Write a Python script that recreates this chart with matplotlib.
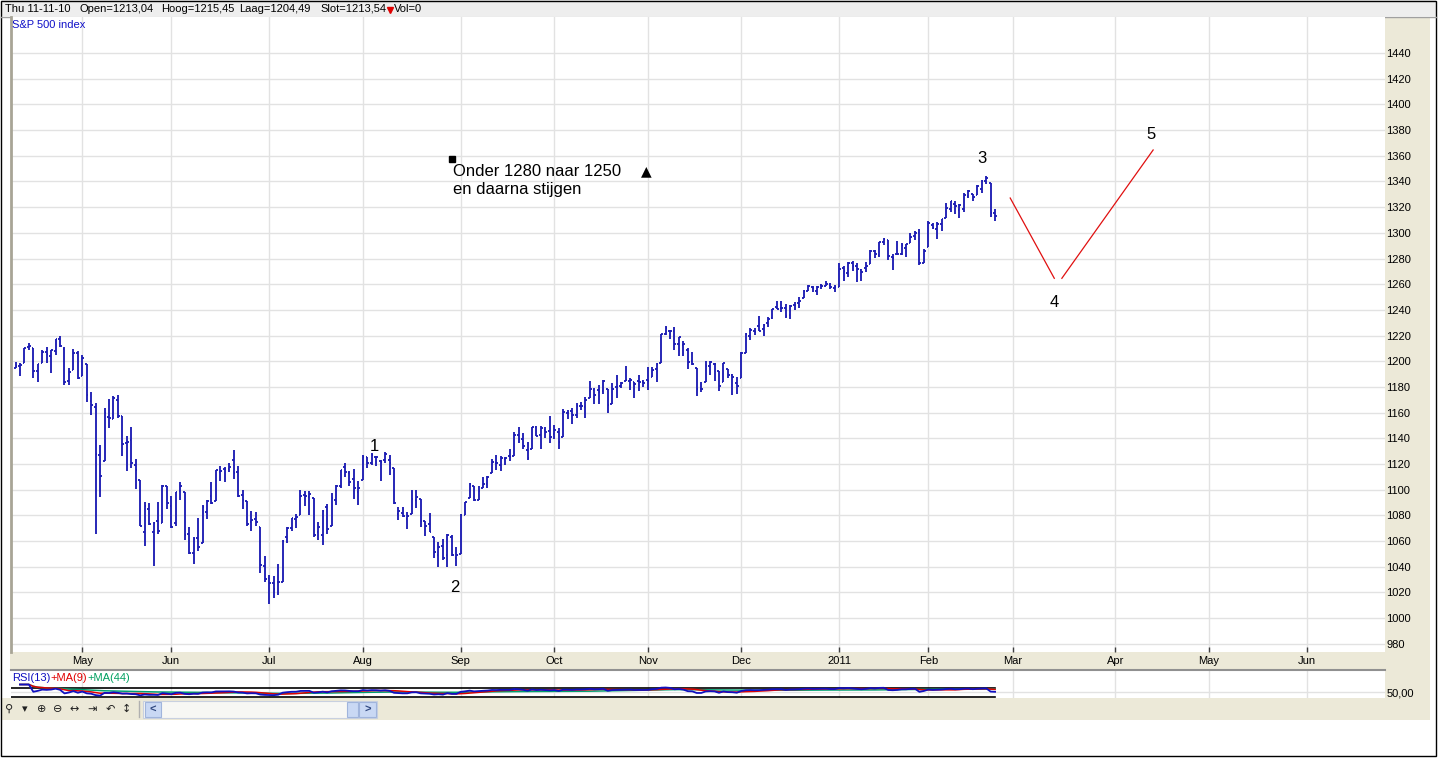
import numpy as np
import pandas as pd
import matplotlib
matplotlib.use('Agg')
import matplotlib.pyplot as plt
from matplotlib.collections import LineCollection
from matplotlib.patches import Rectangle

W, H, DPI = 1438, 758, 100

# ---------------- data ----------------
start_date = '2010-04-12'
end_date = '2011-02-23'
future_end = '2011-06-30'
holidays = ['2010-05-31', '2010-07-05', '2010-09-06', '2010-11-25',
            '2010-12-24', '2011-01-17', '2011-02-21']

open_ = [
    # Apr 2010
    1194.94, 1195.94, 1198.69, 1210.77, 1210.17, 1192.06, 1199.04, 1207.16, 1203.79, 1207.87,
    1217.07, 1209.92, 1184.59, 1193.30, 1206.77,
    # May
    1188.58, 1197.50, 1169.24, 1164.38, 1127.04, 1122.27, 1156.39, 1155.43, 1170.04, 1157.19,
    1136.52, 1138.78, 1119.57, 1107.34, 1067.26, 1084.78, 1067.42, 1075.51, 1074.27, 1102.59,
    # Jun
    1087.30, 1073.89, 1098.82, 1098.43, 1065.84, 1050.81, 1062.75, 1058.77, 1082.65, 1095.00,
    1091.21, 1114.02, 1115.98, 1116.16, 1122.79, 1113.90, 1095.57, 1090.93, 1075.10, 1077.50,
    1071.10, 1040.56,
    # Jul
    1031.10, 1027.65, 1028.09, 1028.54, 1062.92, 1070.50, 1077.23, 1080.65, 1095.61, 1094.46,
    1093.85, 1066.85, 1064.53, 1086.67, 1072.14, 1092.17, 1102.89, 1117.36, 1112.84, 1108.07,
    1098.44,
    # Aug
    1107.53, 1125.34, 1121.06, 1125.78, 1122.07, 1122.80, 1122.92, 1116.89, 1081.48, 1082.22,
    1077.49, 1081.16, 1092.08, 1092.44, 1075.63, 1073.36, 1063.20, 1048.98, 1056.28, 1049.27,
    1062.90, 1046.88,
    # Sep
    1049.72, 1080.66, 1093.61, 1102.60, 1092.36, 1101.15, 1104.57, 1113.38, 1121.16, 1119.43,
    1123.89, 1126.39, 1126.57, 1142.82, 1139.49, 1131.10, 1131.69, 1148.64, 1142.31, 1146.75,
    1145.97,
    # Oct
    1143.49, 1144.96, 1140.68, 1159.81, 1161.57, 1158.36, 1165.32, 1164.28, 1171.32, 1177.82,
    1177.47, 1176.83, 1178.64, 1166.74, 1179.82, 1180.52, 1184.74, 1184.88, 1183.84, 1184.47,
    1183.87,
    # Nov
    1185.71, 1187.86, 1193.79, 1198.34, 1221.20, 1223.24, 1223.59, 1213.14, 1213.04, 1209.07,
    1200.44, 1194.79, 1178.33, 1183.75, 1196.12, 1198.07, 1192.51, 1183.70, 1194.16, 1189.08,
    1182.96,
    # Dec
    1186.60, 1206.81, 1219.93, 1223.87, 1227.25, 1225.02, 1230.14, 1233.85, 1242.52, 1241.84,
    1241.58, 1236.34, 1243.63, 1245.76, 1249.43, 1254.94, 1257.53, 1254.66, 1259.10, 1258.78,
    1259.44, 1256.76,
    # Jan 2011
    1257.62, 1272.95, 1268.78, 1276.29, 1274.41, 1270.84, 1272.58, 1275.65, 1285.78, 1282.90,
    1293.22, 1294.52, 1280.85, 1283.63, 1283.29, 1288.17, 1291.97, 1297.51, 1299.63, 1276.50,
    # Feb
    1289.14, 1305.91, 1302.77, 1307.01, 1311.85, 1318.76, 1322.48, 1318.13, 1318.66, 1328.73,
    1330.43, 1329.51, 1334.37, 1340.38, 1338.91, 1315.44,
]

high = [
    1199.20, 1199.04, 1210.65, 1213.92, 1210.17, 1197.87, 1208.58, 1210.99, 1208.67, 1217.28,
    1219.80, 1211.38, 1195.05, 1209.36, 1207.99,
    1205.13, 1197.50, 1175.95, 1167.58, 1135.13, 1163.85, 1170.48, 1172.87, 1173.57, 1157.19,
    1141.88, 1148.66, 1124.27, 1107.34, 1090.16, 1089.95, 1074.75, 1090.75, 1103.52, 1102.59,
    1094.77, 1098.56, 1105.67, 1098.43, 1071.36, 1063.15, 1077.74, 1087.85, 1092.25, 1105.91,
    1115.59, 1118.74, 1117.72, 1121.01, 1131.23, 1118.50, 1099.64, 1090.93, 1083.56, 1082.60,
    1071.10, 1048.08,
    1033.58, 1032.95, 1042.50, 1060.89, 1071.25, 1078.16, 1080.78, 1099.46, 1099.08, 1098.66,
    1093.85, 1074.70, 1083.94, 1088.96, 1097.50, 1103.73, 1115.01, 1120.95, 1114.66, 1115.90,
    1106.44,
    1127.30, 1125.44, 1128.75, 1126.56, 1123.06, 1129.24, 1127.16, 1116.89, 1086.72, 1086.25,
    1082.62, 1100.14, 1099.77, 1092.44, 1075.63, 1081.58, 1063.20, 1059.38, 1061.45, 1065.21,
    1064.40, 1055.14,
    1081.30, 1090.10, 1105.10, 1102.60, 1103.26, 1110.27, 1110.88, 1123.87, 1127.36, 1126.46,
    1125.44, 1131.47, 1144.86, 1148.59, 1144.38, 1136.77, 1148.90, 1149.92, 1150.00, 1148.63,
    1157.16,
    1150.30, 1148.16, 1162.76, 1162.33, 1163.87, 1167.73, 1168.68, 1172.58, 1184.38, 1178.89,
    1181.20, 1185.53, 1178.64, 1182.94, 1189.43, 1183.93, 1196.14, 1187.11, 1183.84, 1189.53,
    1185.46,
    1195.81, 1195.88, 1198.30, 1221.25, 1227.08, 1224.57, 1226.84, 1218.75, 1215.45, 1210.50,
    1207.43, 1194.79, 1183.56, 1200.29, 1199.97, 1198.94, 1192.51, 1198.62, 1194.16, 1190.34,
    1187.40,
    1207.61, 1221.89, 1225.57, 1225.80, 1235.05, 1228.93, 1234.71, 1240.40, 1246.73, 1246.59,
    1244.25, 1243.75, 1245.81, 1250.20, 1255.82, 1259.39, 1258.59, 1258.43, 1259.90, 1262.60,
    1261.09, 1259.34,
    1276.17, 1274.12, 1277.63, 1278.17, 1276.83, 1271.52, 1277.25, 1286.87, 1286.70, 1293.24,
    1296.06, 1294.60, 1283.35, 1293.26, 1291.93, 1291.26, 1299.74, 1301.29, 1302.67, 1287.17,
    1308.86, 1307.61, 1308.60, 1311.00, 1322.85, 1324.87, 1324.54, 1322.76, 1330.79, 1332.96,
    1330.43, 1337.61, 1341.50, 1344.07, 1338.91, 1318.30,
]

low = [
    1194.70, 1188.82, 1198.69, 1208.50, 1186.77, 1183.68, 1199.04, 1198.85, 1190.60, 1205.10,
    1211.07, 1181.62, 1181.81, 1193.30, 1186.32,
    1188.58, 1168.12, 1158.15, 1065.79, 1094.15, 1122.27, 1147.71, 1155.43, 1156.14, 1126.14,
    1114.96, 1117.20, 1100.66, 1071.58, 1055.90, 1072.70, 1040.78, 1065.59, 1074.27, 1084.78,
    1069.89, 1072.03, 1091.81, 1060.50, 1049.86, 1042.17, 1052.25, 1058.77, 1077.12, 1089.03,
    1091.21, 1107.13, 1105.87, 1113.93, 1108.24, 1094.18, 1085.31, 1071.60, 1067.89, 1071.45,
    1035.18, 1028.33,
    1010.91, 1015.93, 1018.35, 1028.54, 1058.24, 1068.10, 1069.99, 1080.65, 1087.68, 1080.53,
    1063.32, 1061.11, 1056.88, 1065.25, 1072.14, 1087.88, 1101.30, 1109.78, 1103.11, 1092.82,
    1088.01,
    1107.53, 1116.76, 1119.46, 1118.81, 1107.17, 1120.91, 1111.58, 1088.55, 1076.69, 1079.00,
    1069.49, 1081.16, 1085.76, 1070.66, 1063.91, 1067.08, 1046.68, 1039.83, 1045.40, 1039.70,
    1048.79, 1040.88,
    1049.72, 1080.39, 1093.61, 1091.15, 1092.36, 1101.15, 1101.15, 1113.38, 1115.58, 1114.63,
    1118.88, 1122.43, 1126.57, 1136.22, 1131.58, 1122.79, 1131.69, 1142.00, 1132.09, 1140.26,
    1136.08,
    1139.42, 1131.87, 1140.68, 1154.85, 1151.41, 1155.58, 1162.02, 1155.71, 1171.32, 1166.71,
    1167.12, 1174.55, 1159.71, 1166.74, 1171.17, 1178.99, 1184.74, 1177.72, 1171.70, 1177.10,
    1179.70,
    1177.65, 1187.86, 1183.56, 1198.34, 1220.29, 1217.55, 1208.94, 1204.33, 1204.49, 1194.08,
    1197.15, 1173.00, 1175.82, 1183.75, 1189.44, 1184.58, 1176.91, 1183.70, 1186.93, 1173.64,
    1174.14,
    1186.60, 1206.81, 1216.82, 1220.67, 1223.25, 1219.50, 1226.85, 1232.58, 1240.34, 1238.17,
    1234.01, 1232.85, 1239.87, 1241.51, 1249.43, 1254.94, 1254.05, 1251.48, 1256.22, 1258.78,
    1256.32, 1254.19,
    1257.62, 1262.66, 1265.36, 1270.43, 1261.70, 1262.18, 1269.62, 1275.65, 1280.47, 1281.24,
    1290.16, 1278.92, 1271.26, 1283.07, 1282.47, 1281.07, 1291.97, 1294.41, 1275.10, 1276.50,
    1289.14, 1302.62, 1294.83, 1301.67, 1311.85, 1316.03, 1314.89, 1311.74, 1316.08, 1326.90,
    1324.61, 1329.51, 1331.00, 1338.12, 1312.33, 1309.20,
]

close = [
    1196.48, 1197.30, 1210.65, 1211.67, 1192.13, 1197.52, 1207.17, 1205.94, 1208.67, 1217.28,
    1212.05, 1183.71, 1191.36, 1206.78, 1186.69,
    1202.26, 1173.60, 1165.87, 1128.15, 1110.88, 1159.73, 1155.79, 1171.67, 1157.44, 1135.68,
    1136.94, 1120.80, 1115.05, 1071.59, 1087.69, 1073.65, 1074.03, 1067.95, 1103.06, 1089.41,
    1070.71, 1098.38, 1102.83, 1064.88, 1050.47, 1062.00, 1055.69, 1086.84, 1091.60, 1089.63,
    1115.23, 1114.61, 1116.04, 1117.51, 1113.20, 1095.31, 1092.04, 1073.69, 1076.76, 1074.57,
    1041.24, 1030.71,
    1027.37, 1022.58, 1028.06, 1060.27, 1070.25, 1077.96, 1078.75, 1095.34, 1095.17, 1096.48,
    1064.88, 1071.25, 1083.48, 1069.59, 1093.67, 1102.66, 1115.01, 1113.84, 1106.13, 1101.53,
    1101.60,
    1125.86, 1120.46, 1127.24, 1125.81, 1121.64, 1127.79, 1121.06, 1089.47, 1083.61, 1079.25,
    1079.38, 1092.54, 1094.16, 1075.63, 1071.69, 1067.36, 1051.87, 1055.33, 1047.22, 1064.59,
    1048.92, 1049.33,
    1080.29, 1090.10, 1104.51, 1091.84, 1098.87, 1104.18, 1109.55, 1121.90, 1121.10, 1125.07,
    1124.66, 1125.59, 1142.71, 1139.78, 1134.28, 1124.83, 1148.67, 1142.16, 1147.70, 1144.73,
    1141.20,
    1146.24, 1137.03, 1160.75, 1159.97, 1158.06, 1165.15, 1165.32, 1169.77, 1178.10, 1173.81,
    1176.19, 1184.71, 1165.90, 1178.17, 1180.26, 1183.08, 1185.62, 1185.64, 1182.45, 1183.78,
    1183.26,
    1184.38, 1193.57, 1197.96, 1221.06, 1225.85, 1223.25, 1213.40, 1218.71, 1213.54, 1199.21,
    1197.75, 1178.34, 1178.59, 1196.69, 1199.73, 1197.84, 1180.73, 1198.35, 1189.40, 1187.76,
    1180.55,
    1206.07, 1221.53, 1224.71, 1223.12, 1223.75, 1228.28, 1233.00, 1240.40, 1240.46, 1241.59,
    1235.23, 1242.87, 1243.91, 1247.08, 1254.60, 1258.84, 1256.77, 1257.54, 1258.51, 1259.78,
    1257.88, 1257.64,
    1271.87, 1270.20, 1276.56, 1273.85, 1271.50, 1269.75, 1274.48, 1285.96, 1283.76, 1293.24,
    1295.02, 1281.92, 1280.26, 1283.35, 1290.84, 1291.18, 1296.63, 1299.54, 1276.34, 1286.12,
    1307.59, 1304.03, 1307.10, 1310.87, 1319.05, 1324.57, 1320.88, 1321.87, 1329.15, 1332.32,
    1328.01, 1336.32, 1340.43, 1343.01, 1315.44, 1313.00,
]

month_labels = ['May', 'Jun', 'Jul', 'Aug', 'Sep', 'Oct', 'Nov', 'Dec', '2011',
                'Feb', 'Mar', 'Apr', 'May', 'Jun']
price_ticks = list(range(980, 1441, 20))

# wave-count annotations (labels and projected path, in index/price units)
wave_labels = ['1', '2', '3', '4', '5']
wave_pos = [(80.5, 1130.4), (98.7, 1020.6), (217.1, 1354.4), (233.2, 1242.5), (255.0, 1373.0)]
projection_down = [(223.4, 1327.1), (233.3, 1264.6)]
projection_up = [(235.0, 1264.6), (255.5, 1364.5)]

header = [('Thu 11-11-10', 5), ('Open=1213,04', 80), ('Hoog=1215,45', 161),
          ('Laag=1204,49', 239), ('Slot=1213,54', 320)]

# ---------------- calendar ----------------
hist_days = pd.bdate_range(start_date, end_date, freq='C', holidays=holidays)
fut_days = pd.bdate_range(pd.Timestamp(end_date) + pd.Timedelta(days=1), future_end)
all_days = hist_days.append(fut_days)
n = len(close)
xs = np.arange(n)
month_id = all_days.year * 12 + all_days.month
tick_pos = [i for i in range(1, len(all_days)) if month_id[i] != month_id[i - 1]]
tick_pos = tick_pos[:len(month_labels)]

# ---------------- figure ----------------
plt.rcParams['font.family'] = ['Liberation Sans', 'DejaVu Sans']
UI = 8
fig = plt.figure(figsize=(W / DPI, H / DPI), dpi=DPI)
fig.patch.set_facecolor('white')

def frac(x0, y0, x1, y1):
    return [x0 / W, 1 - y1 / H, (x1 - x0) / W, (y1 - y0) / H]

def ftext(x, y, s, **kw):
    return fig.text(x / W, 1 - y / H, s, **kw)

BEIGE = '#ECE9D8'
bg = fig.add_axes([0, 0, 1, 1])
bg.set_xlim(0, W)
bg.set_ylim(H, 0)
bg.axis('off')
bg.add_patch(Rectangle((1, 0), W - 3, 16, facecolor='#EEEEEE', edgecolor='none'))
bg.plot([1, W - 2], [16.5, 16.5], color='#A0A0A0', lw=1)
bg.add_patch(Rectangle((10, 652), 1420, 18, facecolor=BEIGE, edgecolor='none'))
bg.add_patch(Rectangle((1385, 17), 45, 683, facecolor=BEIGE, edgecolor='none'))
bg.add_patch(Rectangle((2, 698), 1428, 22, facecolor=BEIGE, edgecolor='none'))
bg.add_patch(Rectangle((1, 0.5), W - 3, H - 2.5, facecolor='none', edgecolor='black', lw=1))

# ---------------- main price axes ----------------
XL = ((11 - 15.5) / 4.4526, (1385 - 15.5) / 4.4526)
ax = fig.add_axes(frac(11, 17, 1385, 652))
ax.set_facecolor('white')
ax.set_xlim(*XL)
ax.set_ylim(1440 - (652 - 53) / 1.2845, 1440 + (53 - 17) / 1.2845)
for v in price_ticks:
    ax.axhline(v, color='#E2E2E2', lw=1, zorder=0)
for t in tick_pos:
    ax.axvline(t, color='#E2E2E2', lw=1, zorder=0)

bar_col = '#1E1EB4'
tk = 0.38
segs = []
for i in range(n):
    segs.append([(xs[i], low[i]), (xs[i], high[i])])
    segs.append([(xs[i] - tk, open_[i]), (xs[i], open_[i])])
    segs.append([(xs[i], close[i]), (xs[i] + tk, close[i])])
ax.add_collection(LineCollection(segs, colors=bar_col, linewidths=1.35, zorder=3))

ax.plot(*zip(*projection_down), color='#E01010', lw=0.9, zorder=3)
ax.plot(*zip(*projection_up), color='#E01010', lw=0.9, zorder=3)
for lab, (wx, wy) in zip(wave_labels, wave_pos):
    ax.text(wx, wy, lab, fontsize=12, ha='center', va='baseline', color='black', zorder=4)

ax.text(98.3, 1344.5, 'Onder 1280 naar 1250', fontsize=12, ha='left', va='baseline')
ax.text(98.3, 1330.0, 'en daarna stijgen', fontsize=12, ha='left', va='baseline')
ax.text(141.6, 1344.5, '\u25B2', fontsize=10, ha='center', va='baseline',
        family=['DejaVu Sans'])
ax.plot([98.1], [1357.1], marker='s', markersize=4.5, mfc='black', mec='black', zorder=4)

ax.set_yticks(price_ticks)
ax.set_yticklabels([str(v) for v in price_ticks])
ax.yaxis.tick_right()
ax.tick_params(axis='y', length=0, pad=0.8, labelsize=UI)
ax.set_xticks(tick_pos)
ax.set_xticklabels(month_labels)
ax.tick_params(axis='x', direction='in', length=3.5, width=1, color='#404040',
               pad=3, labelsize=UI)
for s in ['top', 'right', 'bottom']:
    ax.spines[s].set_visible(False)
ax.spines['left'].set_color('#A8A596')
ax.spines['left'].set_linewidth(2)

# ---------------- RSI panel ----------------
c = pd.Series(close)
d = c.diff()
up = d.clip(lower=0).ewm(alpha=1 / 13, adjust=False).mean()
dn = (-d.clip(upper=0)).ewm(alpha=1 / 13, adjust=False).mean()
rsi = 100 - 100 / (1 + up / dn)
ma9 = rsi.rolling(9, min_periods=1).mean()
ma44 = rsi.rolling(44, min_periods=1).mean()

# panel scale: 50 sits at y=692 px, 0.15 px per RSI unit
rx = fig.add_axes(frac(11, 670, 1385, 698))
rx.set_xlim(*XL)
rx.set_ylim(50 - 6 / 0.15, 50 + 22 / 0.15)
for t in tick_pos:
    rx.axvline(t, color='#E2E2E2', lw=1, zorder=0)
rx.axhline(50, color='#E2E2E2', lw=1, zorder=0)
rx.plot([XL[0], n - 1], [80, 80], color='black', lw=1.2, zorder=1)
rx.plot([XL[0], n - 1], [20, 20], color='black', lw=1.2, zorder=1)
rx.plot(xs, ma44, color='#00A070', lw=1.1, zorder=2)
rx.plot(xs, ma9, color='#E00000', lw=1.1, zorder=3)
rx.plot(xs, rsi, color='#1010C0', lw=1.3, zorder=4)
rx.set_xticks([])
rx.set_yticks([50])
rx.set_yticklabels(['50,00'])
rx.yaxis.tick_right()
rx.tick_params(axis='y', length=0, pad=0.8, labelsize=UI)
for s in ['right', 'bottom', 'left']:
    rx.spines[s].set_visible(False)
rx.spines['top'].set_color('#909090')
rx.spines['top'].set_linewidth(1.5)

# ---------------- figure-level texts ----------------
for txt, px in header:
    ftext(px, 8.5, txt, fontsize=UI, va='center', ha='left', color='black')
bg.plot([389.5], [9.5], marker='v', color='#E00000', markersize=5)
ftext(393.5, 8.5, 'Vol=0', fontsize=UI, va='center', ha='left', color='black')
ftext(12.5, 25, 'S&P 500 index', fontsize=UI, color='#1010C8', ha='left', va='center')

fig.canvas.draw()
rend = fig.canvas.get_renderer()
px = 12
for txt, col in [('RSI(13)', '#1010C0'), ('+MA(9)', '#E00000'), ('+MA(44)', '#00A060')]:
    t = ftext(px, 678, txt, fontsize=UI, color=col, va='center', ha='left')
    bb = t.get_window_extent(rend)
    px += bb.width

# ---------------- toolbar ----------------
icons = [('\u26B2', 9), ('\u25BE', 25), ('\u2295', 42), ('\u2296', 58), ('\u2194', 74),
         ('\u21E5', 92), ('\u21B6', 110), ('\u2195', 126)]
for g, ix in icons:
    ftext(ix, 709, g, fontsize=8, ha='center', va='center', color='#202020',
          family=['DejaVu Sans'])
bg.plot([139, 139], [701, 717], color='#B0B0B0', lw=1)
bg.add_patch(Rectangle((143, 701), 234, 17, facecolor='#F7F7F4', edgecolor='#C8D0E0', lw=0.8))
bg.add_patch(Rectangle((145, 702), 16, 15, facecolor='#C9D8F4', edgecolor='#A0B4DC', lw=0.8))
bg.add_patch(Rectangle((347, 702), 11, 15, facecolor='#C9D8F4', edgecolor='#A0B4DC', lw=0.8))
bg.add_patch(Rectangle((359, 702), 17, 15, facecolor='#C9D8F4', edgecolor='#A0B4DC', lw=0.8))
ftext(153, 709.5, '<', fontsize=8, ha='center', va='center', color='#304880', weight='bold')
ftext(367.5, 709.5, '>', fontsize=8, ha='center', va='center', color='#304880', weight='bold')

fig.savefig('out.png', dpi=DPI)
